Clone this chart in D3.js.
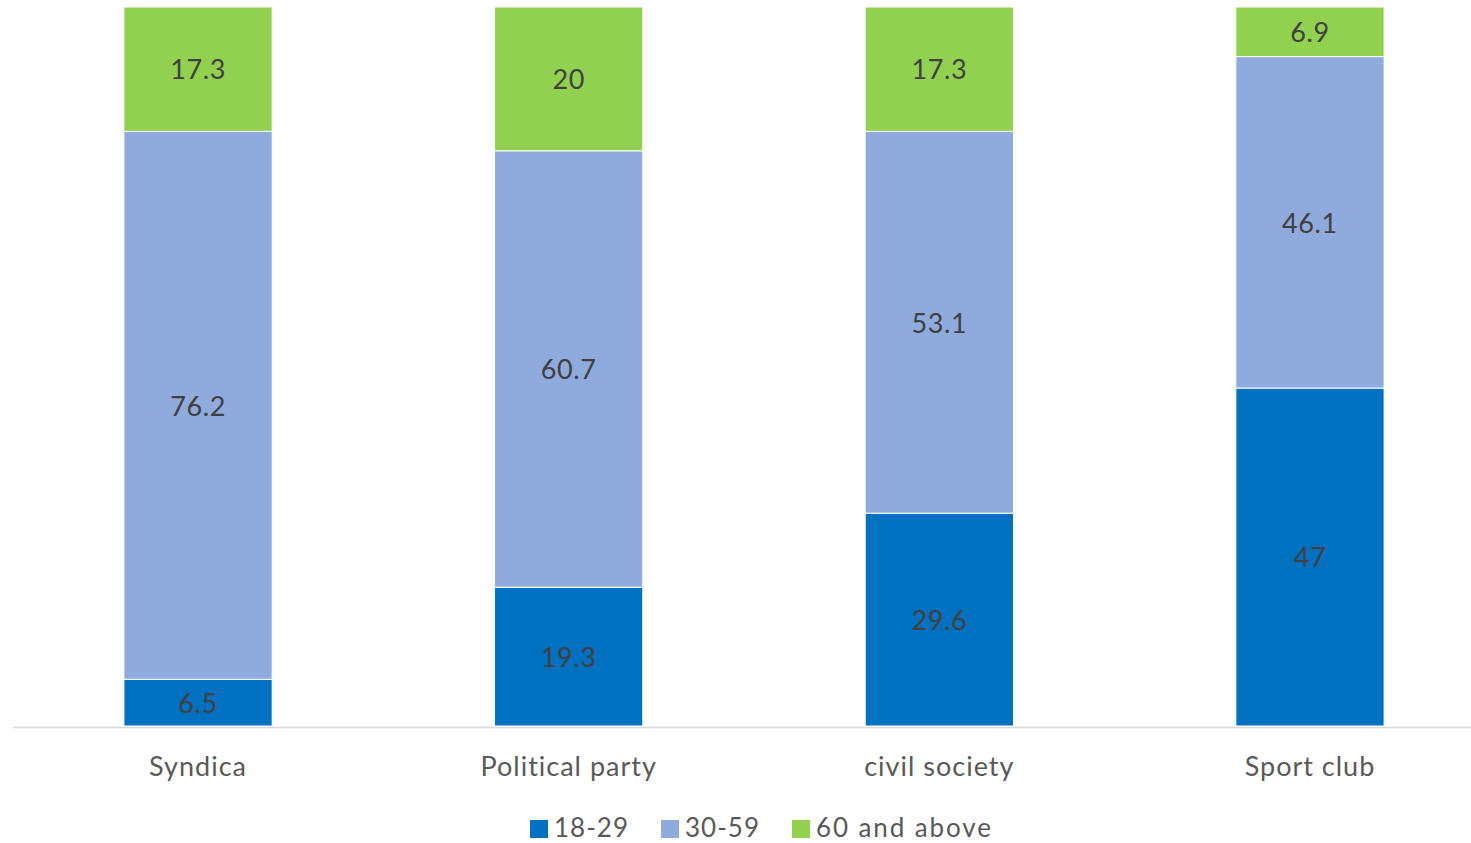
<!DOCTYPE html>
<html>
<head>
<meta charset="utf-8">
<script src="https://cdn.jsdelivr.net/npm/d3@7"></script>
<style>
  html, body { margin: 0; padding: 0; background: #fff; }
  svg { display: block; font-family: Lato, "Open Sans", sans-serif; }
</style>
</head>
<body>
<svg id="chart" width="1471" height="843"></svg>
<script>
// Membership by age group (percent of each organisation type)
const categories = ["Syndica", "Political party", "civil society", "Sport club"];
const seriesNames = ["18-29", "30-59", "60 and above"];
const age18to29 = [6.5, 19.3, 29.6, 47];
const age30to59 = [76.2, 60.7, 53.1, 46.1];
const age60plus = [17.3, 20, 17.3, 6.9];
const colors = ["#0070C0", "#8FAADC", "#92D050"];

const rows = categories.map((c, i) => ({
  category: c,
  "18-29": age18to29[i],
  "30-59": age30to59[i],
  "60 and above": age60plus[i]
}));

const svg = d3.select("#chart");
const baseY = 726, topY = 7;

const x = d3.scaleBand()
  .domain(categories)
  .range([12.7, 1495.3])
  .paddingInner(0.6)
  .paddingOuter(0.3);

const y = d3.scaleLinear().domain([0, 100]).range([baseY, topY]);

const stacked = d3.stack().keys(seriesNames)(rows);

const color = d3.scaleOrdinal().domain(seriesNames).range(colors);

// Stacked bar segments
const layers = svg.append("g").selectAll("g")
  .data(stacked)
  .join("g")
  .attr("fill", d => color(d.key));

layers.selectAll("rect")
  .data(d => d)
  .join("rect")
  .attr("x", d => x(d.data.category))
  .attr("width", x.bandwidth())
  .attr("y", d => y(d[1]))
  .attr("height", d => y(d[0]) - y(d[1]))
  .attr("stroke", "#fff")
  .attr("stroke-width", 1);

// Value labels centred in each segment
const labels = svg.append("g");
stacked.forEach(layer => {
  labels.selectAll(null)
    .data(layer)
    .join("text")
    .attr("x", d => x(d.data.category) + x.bandwidth() / 2)
    .attr("y", d => (y(d[0]) + y(d[1])) / 2)
    .attr("dy", "0.38em")
    .attr("text-anchor", "middle")
    .attr("font-size", 27)
    .attr("letter-spacing", 0.6)
    .attr("fill", "#404040")
    .text(d => d.data[layer.key]);
});

// Category axis
const axis = svg.append("g")
  .attr("transform", `translate(0,${baseY + 1})`)
  .call(d3.axisBottom(x).tickSize(0).tickPadding(30));
axis.select(".domain").attr("stroke", "#D9D9D9").attr("stroke-width", 1.5);
axis.selectAll("text")
  .attr("font-size", 27)
  .attr("letter-spacing", 1)
  .attr("fill", "#595959")
  .attr("font-family", "Lato, 'Open Sans', sans-serif");

// Legend
const legendItems = [
  { key: "18-29", x: 530 },
  { key: "30-59", x: 661 },
  { key: "60 and above", x: 792 }
];
const legend = svg.append("g").attr("transform", "translate(0,828)");
const li = legend.selectAll("g").data(legendItems).join("g")
  .attr("transform", d => `translate(${d.x},0)`);
li.append("rect")
  .attr("x", 0).attr("y", -8)
  .attr("width", 18).attr("height", 18)
  .attr("fill", d => color(d.key));
li.append("text")
  .attr("x", 24)
  .attr("dy", "0.36em")
  .attr("font-size", 26)
  .attr("letter-spacing", d => /[a-z]/.test(d.key) ? 1.9 : 1)
  .attr("fill", "#595959")
  .text(d => d.key);
</script>
</body>
</html>
